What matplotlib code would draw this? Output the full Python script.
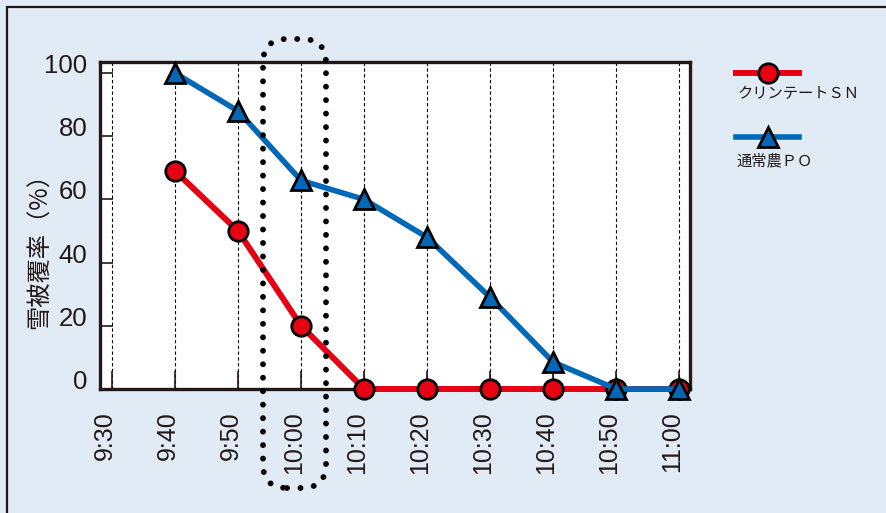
import matplotlib
matplotlib.use("Agg")
import matplotlib.pyplot as plt
from matplotlib.patches import FancyBboxPatch, Rectangle
from matplotlib.lines import Line2D
from matplotlib.transforms import IdentityTransform

# ---- data ----
time_labels = ["9:30", "9:40", "9:50", "10:00", "10:10", "10:20",
               "10:30", "10:40", "10:50", "11:00"]
sn_times = ["9:40", "9:50", "10:00", "10:10", "10:20", "10:30", "10:40", "10:50", "11:00"]
sn_values = [69, 50, 20, 0, 0, 0, 0, 0, 0]
po_times = ["9:40", "9:50", "10:00", "10:10", "10:20", "10:30", "10:40", "10:50", "11:00"]
po_values = [100, 88, 66, 60, 48, 29, 8.5, 0, 0]
y_ticks = [0, 20, 40, 60, 80, 100]
series_names = ["クリンテートＳＮ", "通常農ＰＯ"]
ylabel = "雪被覆率（%）"
highlight = "10:00"

RED = "#e60012"
BLUE = "#0068b7"
DARK = "#231815"
BG = "#e1ebf6"
NUM_FONT = ["Liberation Sans Narrow", "Liberation Sans", "DejaVu Sans"]
CJK_FONT = ["Noto Sans CJK JP", "DejaVu Sans"]

W, H = 886, 513
fig = plt.figure(figsize=(W / 100, H / 100), dpi=100)
fig.patch.set_facecolor(BG)

# outer frame (left and top visible)
fig.add_artist(Rectangle((7, -20), W + 40, H - 7 + 20, transform=IdentityTransform(),
                         facecolor="none", edgecolor=DARK, linewidth=1.6, zorder=0))

ax = fig.add_axes([100 / W, 1 - 389 / H, 590 / W, 327 / H])
ax.set_facecolor("white")

xpos = {t: i for i, t in enumerate(time_labels)}
sx = [xpos[t] for t in sn_times]
px = [xpos[t] for t in po_times]

ax.plot(sx, sn_values, color=RED, lw=4.3, marker="o", ms=14, mfc=RED, mec="black",
        mew=2.0, clip_on=False, zorder=3)
ax.plot(px, po_values, color=BLUE, lw=4.0, marker="^", ms=14.5, mfc=BLUE, mec="black",
        mew=2.0, clip_on=False, zorder=4)

ax.set_xlim(-0.19, 9.17)
ax.set_ylim(0, 103.5)
ax.set_xticks(range(len(time_labels)))
ax.set_xticklabels(time_labels)
ax.set_yticks(y_ticks)
ax.set_yticklabels([str(v) for v in y_ticks])

for x in range(len(time_labels)):
    ax.axvline(x, color="black", lw=0.8, ls=(0, (3, 2.2)), zorder=1)

for s in ax.spines.values():
    s.set_linewidth(2.4)
    s.set_color(DARK)

ax.tick_params(axis="y", direction="in", length=9, width=1.2, color=DARK,
               labelsize=18.5, labelcolor=DARK, pad=9)
ax.tick_params(axis="x", direction="in", length=13, width=1.2, color=DARK,
               labelsize=18, labelcolor=DARK, pad=16)
for t in ax.get_yticklabels():
    t.set_family(NUM_FONT)
    t.set_verticalalignment("baseline")
for t in ax.get_xticklabels():
    t.set_family(NUM_FONT)
    t.set_rotation(90)
    t.set_rotation_mode("anchor")
    t.set_horizontalalignment("right")
    t.set_verticalalignment("baseline")

fig.text(40 / W, 1 - 245 / H, ylabel, rotation=90, ha="center", va="center",
         fontsize=17.5, color=DARK, family=CJK_FONT)

# dotted rounded box around the highlighted time
fig.add_artist(FancyBboxPatch((263, H - 488), 326 - 263, 488 - 39,
                              boxstyle="round,pad=0,rounding_size=24",
                              transform=IdentityTransform(), facecolor="none",
                              edgecolor="black", linewidth=4.2,
                              linestyle=(0, (0.01, 2.3)), capstyle="round",
                              zorder=6, clip_on=False))

# legend (handle above text)
leg_items = [(series_names[0], RED, "o", 73, 94, 4.3),
             (series_names[1], BLUE, "^", 137, 161, 4.0)]
for name, col, mk, ly, ty, lw in leg_items:
    fig.add_artist(Line2D([736 / W, 799 / W], [1 - ly / H, 1 - ly / H], color=col, lw=lw,
                          transform=fig.transFigure))
    fig.add_artist(Line2D([768 / W], [1 - ly / H], color=col, marker=mk, ms=14 if mk == "o" else 14.5,
                          mfc=col, mec="black", mew=2.0, transform=fig.transFigure))
    fig.text(737 / W, 1 - ty / H, name, ha="left", va="center", fontsize=11,
             color=DARK, family=CJK_FONT)

fig.savefig("out.png", dpi=100, facecolor=BG)
